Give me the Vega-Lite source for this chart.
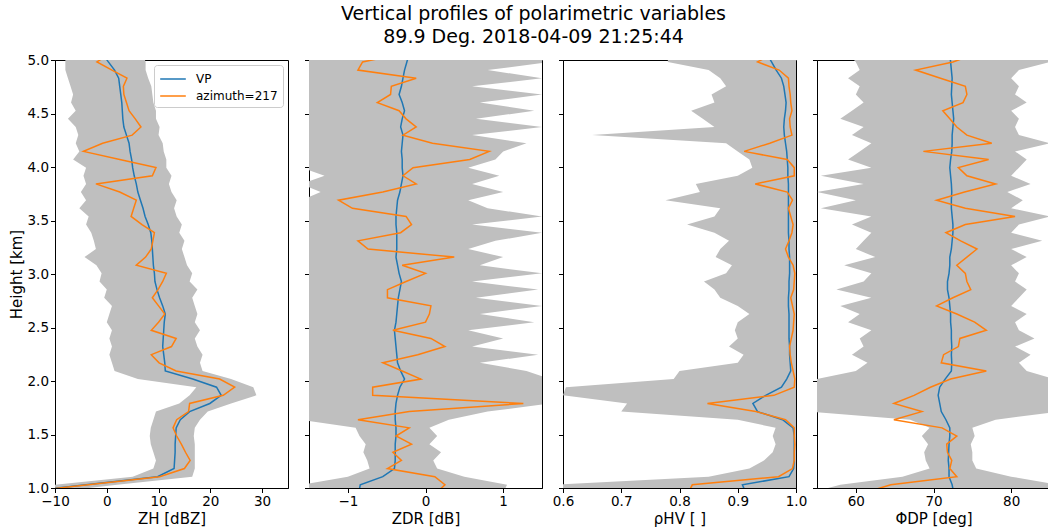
{
  "$schema": "https://vega.github.io/schema/vega-lite/v6.json",
  "background": "white",
  "padding": {"left": 8, "top": 4, "right": 0, "bottom": 0},
  "autosize": {"type": "pad"},
  "bounds": "flush",
  "spacing": 21,
  "title": {
    "text": ["Vertical profiles of polarimetric variables", "89.9 Deg. 2018-04-09 21:25:44"],
    "fontSize": 19, "font": "DejaVu Sans", "fontWeight": "normal", "anchor": "middle",
    "frame": "bounds", "offset": 6, "lineHeight": 23, "color": "black", "dx": 4
  },
  "config": {
    "view": {"stroke": "black", "strokeWidth": 1},
    "axis": {
      "domainColor": "black", "tickColor": "black", "labelColor": "black", "titleColor": "black",
      "labelFont": "DejaVu Sans", "titleFont": "DejaVu Sans", "labelFontSize": 13.5, "titleFontSize": 15,
      "titleFontWeight": "normal", "grid": false, "tickSize": 4.5, "labelPadding": 2, "titlePadding": 3,
      "labelFlush": false
    },
    "legend": {"labelFont": "DejaVu Sans"}
  },
  "datasets": {
    "env": [
      {"h":0.954,"zh_lo":-32,"zh_hi":-12,"zdr_lo":-1.6,"zdr_hi":1.0,"rho_lo":0.55,"rho_hi":1.0,"phi_lo":54,"phi_hi":86},
      {"h":1.03,"zh_lo":-10,"zh_hi":2,"zdr_lo":-1.6,"zdr_hi":1.05,"rho_lo":0.58,"rho_hi":1.0,"phi_lo":58,"phi_hi":86},
      {"h":1.106,"zh_lo":5,"zh_hi":16.5,"zdr_lo":-1.0,"zdr_hi":0.5,"rho_lo":0.85,"rho_hi":1.0,"phi_lo":66,"phi_hi":80},
      {"h":1.182,"zh_lo":9,"zh_hi":17,"zdr_lo":-0.72,"zdr_hi":0.15,"rho_lo":0.92,"rho_hi":1.0,"phi_lo":69.5,"phi_hi":75.5},
      {"h":1.258,"zh_lo":9.5,"zh_hi":17,"zdr_lo":-0.75,"zdr_hi":0.1,"rho_lo":0.945,"rho_hi":1.0,"phi_lo":69,"phi_hi":75},
      {"h":1.334,"zh_lo":9,"zh_hi":17,"zdr_lo":-0.8,"zdr_hi":0.2,"rho_lo":0.96,"rho_hi":1.0,"phi_lo":68.8,"phi_hi":75},
      {"h":1.41,"zh_lo":8.5,"zh_hi":17,"zdr_lo":-0.77,"zdr_hi":0.05,"rho_lo":0.965,"rho_hi":1.0,"phi_lo":69.3,"phi_hi":74.8},
      {"h":1.486,"zh_lo":8.3,"zh_hi":16.8,"zdr_lo":-0.85,"zdr_hi":0.15,"rho_lo":0.96,"rho_hi":1.0,"phi_lo":68.5,"phi_hi":75.3},
      {"h":1.562,"zh_lo":8.5,"zh_hi":17,"zdr_lo":-0.9,"zdr_hi":0.05,"rho_lo":0.965,"rho_hi":1.0,"phi_lo":69.5,"phi_hi":75},
      {"h":1.638,"zh_lo":9,"zh_hi":18,"zdr_lo":-1.6,"zdr_hi":0.3,"rho_lo":0.90,"rho_hi":1.0,"phi_lo":67,"phi_hi":78},
      {"h":1.714,"zh_lo":9.5,"zh_hi":19.5,"zdr_lo":-1.6,"zdr_hi":0.8,"rho_lo":0.70,"rho_hi":1.0,"phi_lo":54,"phi_hi":86},
      {"h":1.79,"zh_lo":14,"zh_hi":24,"zdr_lo":-1.6,"zdr_hi":1.6,"rho_lo":0.71,"rho_hi":1.0,"phi_lo":54,"phi_hi":86},
      {"h":1.866,"zh_lo":16,"zh_hi":28.9,"zdr_lo":-1.6,"zdr_hi":1.6,"rho_lo":0.60,"rho_hi":1.0,"phi_lo":54,"phi_hi":86},
      {"h":1.942,"zh_lo":17.3,"zh_hi":28.3,"zdr_lo":-1.6,"zdr_hi":1.6,"rho_lo":0.605,"rho_hi":1.0,"phi_lo":54,"phi_hi":86},
      {"h":2.018,"zh_lo":6,"zh_hi":24,"zdr_lo":-1.6,"zdr_hi":1.6,"rho_lo":0.79,"rho_hi":1.0,"phi_lo":55,"phi_hi":85.5},
      {"h":2.094,"zh_lo":1.5,"zh_hi":18.5,"zdr_lo":-1.6,"zdr_hi":1.3,"rho_lo":0.80,"rho_hi":1.0,"phi_lo":60,"phi_hi":82},
      {"h":2.17,"zh_lo":1.0,"zh_hi":18,"zdr_lo":-1.6,"zdr_hi":0.7,"rho_lo":0.90,"rho_hi":1.0,"phi_lo":61.5,"phi_hi":81},
      {"h":2.246,"zh_lo":0.5,"zh_hi":18.5,"zdr_lo":-1.6,"zdr_hi":1.45,"rho_lo":0.91,"rho_hi":1.0,"phi_lo":59.5,"phi_hi":82.5},
      {"h":2.322,"zh_lo":1.0,"zh_hi":17.5,"zdr_lo":-1.6,"zdr_hi":0.6,"rho_lo":0.885,"rho_hi":1.0,"phi_lo":61,"phi_hi":80.5},
      {"h":2.398,"zh_lo":0.5,"zh_hi":17,"zdr_lo":-1.6,"zdr_hi":1.0,"rho_lo":0.90,"rho_hi":1.0,"phi_lo":60.5,"phi_hi":83},
      {"h":2.474,"zh_lo":1.0,"zh_hi":18,"zdr_lo":-1.6,"zdr_hi":0.55,"rho_lo":0.895,"rho_hi":1.0,"phi_lo":62,"phi_hi":81},
      {"h":2.55,"zh_lo":0.0,"zh_hi":17,"zdr_lo":-1.6,"zdr_hi":1.4,"rho_lo":0.90,"rho_hi":1.0,"phi_lo":59,"phi_hi":80.5},
      {"h":2.626,"zh_lo":0.5,"zh_hi":17.5,"zdr_lo":-1.6,"zdr_hi":0.7,"rho_lo":0.92,"rho_hi":1.0,"phi_lo":60.5,"phi_hi":82},
      {"h":2.702,"zh_lo":1.0,"zh_hi":17,"zdr_lo":-1.6,"zdr_hi":1.5,"rho_lo":0.90,"rho_hi":1.0,"phi_lo":58,"phi_hi":80},
      {"h":2.778,"zh_lo":-0.5,"zh_hi":16.5,"zdr_lo":-1.6,"zdr_hi":0.65,"rho_lo":0.87,"rho_hi":1.0,"phi_lo":62,"phi_hi":81},
      {"h":2.854,"zh_lo":0.0,"zh_hi":17.5,"zdr_lo":-1.6,"zdr_hi":1.45,"rho_lo":0.86,"rho_hi":1.0,"phi_lo":57.5,"phi_hi":82},
      {"h":2.93,"zh_lo":-1.4,"zh_hi":16,"zdr_lo":-1.6,"zdr_hi":0.6,"rho_lo":0.842,"rho_hi":1.0,"phi_lo":61,"phi_hi":80.5},
      {"h":3.006,"zh_lo":-1.0,"zh_hi":16.5,"zdr_lo":-1.6,"zdr_hi":1.5,"rho_lo":0.88,"rho_hi":1.0,"phi_lo":62,"phi_hi":81},
      {"h":3.082,"zh_lo":-2.0,"zh_hi":15.5,"zdr_lo":-1.6,"zdr_hi":0.7,"rho_lo":0.89,"rho_hi":1.0,"phi_lo":58.5,"phi_hi":80},
      {"h":3.158,"zh_lo":-4.3,"zh_hi":15,"zdr_lo":-1.6,"zdr_hi":1.0,"rho_lo":0.862,"rho_hi":1.0,"phi_lo":62.5,"phi_hi":82},
      {"h":3.234,"zh_lo":-2.1,"zh_hi":14.5,"zdr_lo":-1.6,"zdr_hi":0.55,"rho_lo":0.87,"rho_hi":1.0,"phi_lo":60,"phi_hi":80},
      {"h":3.31,"zh_lo":-2.5,"zh_hi":15,"zdr_lo":-1.6,"zdr_hi":0.9,"rho_lo":0.885,"rho_hi":1.0,"phi_lo":61,"phi_hi":84},
      {"h":3.386,"zh_lo":-3.0,"zh_hi":14,"zdr_lo":-1.6,"zdr_hi":1.5,"rho_lo":0.86,"rho_hi":1.0,"phi_lo":62,"phi_hi":80},
      {"h":3.462,"zh_lo":-4.0,"zh_hi":14.5,"zdr_lo":-1.6,"zdr_hi":0.6,"rho_lo":0.813,"rho_hi":1.0,"phi_lo":59.5,"phi_hi":81},
      {"h":3.538,"zh_lo":-3.5,"zh_hi":13.5,"zdr_lo":-1.6,"zdr_hi":1.5,"rho_lo":0.86,"rho_hi":1.0,"phi_lo":62,"phi_hi":85},
      {"h":3.614,"zh_lo":-5.3,"zh_hi":13,"zdr_lo":-1.6,"zdr_hi":0.8,"rho_lo":0.87,"rho_hi":1.0,"phi_lo":55.5,"phi_hi":80},
      {"h":3.69,"zh_lo":-4.0,"zh_hi":13.5,"zdr_lo":-1.6,"zdr_hi":0.55,"rho_lo":0.776,"rho_hi":1.0,"phi_lo":60,"phi_hi":81.5},
      {"h":3.766,"zh_lo":-5.0,"zh_hi":12.5,"zdr_lo":-1.35,"zdr_hi":1.0,"rho_lo":0.835,"rho_hi":1.0,"phi_lo":55,"phi_hi":79.5},
      {"h":3.842,"zh_lo":-4.0,"zh_hi":12,"zdr_lo":-1.6,"zdr_hi":0.6,"rho_lo":0.828,"rho_hi":1.0,"phi_lo":61,"phi_hi":82.5},
      {"h":3.918,"zh_lo":-4.5,"zh_hi":12.5,"zdr_lo":-1.3,"zdr_hi":0.95,"rho_lo":0.90,"rho_hi":1.0,"phi_lo":55.5,"phi_hi":80},
      {"h":3.994,"zh_lo":-4.0,"zh_hi":11.5,"zdr_lo":-1.6,"zdr_hi":0.55,"rho_lo":0.925,"rho_hi":1.0,"phi_lo":62,"phi_hi":81},
      {"h":4.07,"zh_lo":-6.5,"zh_hi":11.5,"zdr_lo":-1.6,"zdr_hi":0.9,"rho_lo":0.92,"rho_hi":1.0,"phi_lo":59,"phi_hi":82},
      {"h":4.146,"zh_lo":-5.3,"zh_hi":11,"zdr_lo":-1.6,"zdr_hi":1.0,"rho_lo":0.90,"rho_hi":1.0,"phi_lo":60.5,"phi_hi":80.5},
      {"h":4.222,"zh_lo":-6.0,"zh_hi":10.8,"zdr_lo":-1.6,"zdr_hi":1.3,"rho_lo":0.88,"rho_hi":1.0,"phi_lo":62,"phi_hi":85},
      {"h":4.298,"zh_lo":-5.5,"zh_hi":10,"zdr_lo":-1.6,"zdr_hi":0.6,"rho_lo":0.65,"rho_hi":1.0,"phi_lo":59.5,"phi_hi":81},
      {"h":4.374,"zh_lo":-6.0,"zh_hi":10.2,"zdr_lo":-1.6,"zdr_hi":1.5,"rho_lo":0.86,"rho_hi":1.0,"phi_lo":61,"phi_hi":80.5},
      {"h":4.45,"zh_lo":-7.5,"zh_hi":9.5,"zdr_lo":-1.6,"zdr_hi":0.65,"rho_lo":0.84,"rho_hi":1.0,"phi_lo":58,"phi_hi":81},
      {"h":4.526,"zh_lo":-6.0,"zh_hi":9.5,"zdr_lo":-1.6,"zdr_hi":1.4,"rho_lo":0.82,"rho_hi":1.0,"phi_lo":59.5,"phi_hi":80},
      {"h":4.602,"zh_lo":-6.9,"zh_hi":9,"zdr_lo":-1.6,"zdr_hi":0.7,"rho_lo":0.86,"rho_hi":1.0,"phi_lo":61,"phi_hi":82},
      {"h":4.678,"zh_lo":-6.5,"zh_hi":8.8,"zdr_lo":-1.6,"zdr_hi":1.5,"rho_lo":0.855,"rho_hi":1.0,"phi_lo":60,"phi_hi":80.5},
      {"h":4.754,"zh_lo":-7.0,"zh_hi":8.6,"zdr_lo":-1.6,"zdr_hi":0.6,"rho_lo":0.88,"rho_hi":1.0,"phi_lo":60.5,"phi_hi":81},
      {"h":4.83,"zh_lo":-7.5,"zh_hi":8,"zdr_lo":-1.6,"zdr_hi":1.5,"rho_lo":0.87,"rho_hi":1.0,"phi_lo":59,"phi_hi":80},
      {"h":4.906,"zh_lo":-8.0,"zh_hi":7.5,"zdr_lo":-1.6,"zdr_hi":0.8,"rho_lo":0.85,"rho_hi":1.0,"phi_lo":60.5,"phi_hi":81},
      {"h":4.982,"zh_lo":-8.0,"zh_hi":7.5,"zdr_lo":-1.6,"zdr_hi":1.6,"rho_lo":0.78,"rho_hi":1.0,"phi_lo":60,"phi_hi":85},
      {"h":5.058,"zh_lo":-8.0,"zh_hi":7,"zdr_lo":-1.6,"zdr_hi":1.2,"rho_lo":0.78,"rho_hi":1.0,"phi_lo":59,"phi_hi":85}
    ],
    "prof": [
      {"h":0.954,"s":"VP","zh":-18,"zdr":-0.86,"rho":0.914,"phi":72.6},
      {"h":1.03,"s":"VP","zh":-4,"zdr":-0.84,"rho":0.908,"phi":72.4},
      {"h":1.106,"s":"VP","zh":9.8,"zdr":-0.55,"rho":0.988,"phi":72.0},
      {"h":1.182,"s":"VP","zh":13.0,"zdr":-0.40,"rho":0.996,"phi":72.0},
      {"h":1.258,"s":"VP","zh":13.1,"zdr":-0.39,"rho":0.997,"phi":71.9},
      {"h":1.334,"s":"VP","zh":13.2,"zdr":-0.39,"rho":0.997,"phi":71.95},
      {"h":1.41,"s":"VP","zh":13.2,"zdr":-0.39,"rho":0.997,"phi":72.0},
      {"h":1.486,"s":"VP","zh":13.3,"zdr":-0.38,"rho":0.997,"phi":72.1},
      {"h":1.562,"s":"VP","zh":13.4,"zdr":-0.38,"rho":0.995,"phi":72.1},
      {"h":1.638,"s":"VP","zh":14.2,"zdr":-0.39,"rho":0.977,"phi":71.6},
      {"h":1.714,"s":"VP","zh":16.0,"zdr":-0.39,"rho":0.934,"phi":71.0},
      {"h":1.79,"s":"VP","zh":19.9,"zdr":-0.38,"rho":0.926,"phi":70.8},
      {"h":1.866,"s":"VP","zh":22.1,"zdr":-0.36,"rho":0.948,"phi":70.6},
      {"h":1.942,"s":"VP","zh":21.2,"zdr":-0.33,"rho":0.975,"phi":70.8},
      {"h":2.018,"s":"VP","zh":16.6,"zdr":-0.27,"rho":0.984,"phi":71.5},
      {"h":2.094,"s":"VP","zh":11.3,"zdr":-0.32,"rho":0.991,"phi":72.3},
      {"h":2.17,"s":"VP","zh":11.2,"zdr":-0.36,"rho":0.990,"phi":72.35},
      {"h":2.246,"s":"VP","zh":11.0,"zdr":-0.37,"rho":0.989,"phi":72.3},
      {"h":2.322,"s":"VP","zh":10.8,"zdr":-0.38,"rho":0.989,"phi":72.35},
      {"h":2.398,"s":"VP","zh":10.9,"zdr":-0.39,"rho":0.988,"phi":72.3},
      {"h":2.474,"s":"VP","zh":11.0,"zdr":-0.40,"rho":0.988,"phi":72.3},
      {"h":2.55,"s":"VP","zh":11.1,"zdr":-0.38,"rho":0.988,"phi":72.2},
      {"h":2.626,"s":"VP","zh":11.3,"zdr":-0.37,"rho":0.988,"phi":72.2},
      {"h":2.702,"s":"VP","zh":10.8,"zdr":-0.36,"rho":0.987,"phi":72.1},
      {"h":2.778,"s":"VP","zh":10.2,"zdr":-0.35,"rho":0.987,"phi":72.0},
      {"h":2.854,"s":"VP","zh":9.7,"zdr":-0.33,"rho":0.988,"phi":71.8},
      {"h":2.93,"s":"VP","zh":9.3,"zdr":-0.31,"rho":0.988,"phi":71.8},
      {"h":3.006,"s":"VP","zh":9.2,"zdr":-0.34,"rho":0.989,"phi":72.0},
      {"h":3.082,"s":"VP","zh":9.0,"zdr":-0.36,"rho":0.989,"phi":72.1},
      {"h":3.158,"s":"VP","zh":8.9,"zdr":-0.38,"rho":0.989,"phi":72.1},
      {"h":3.234,"s":"VP","zh":8.8,"zdr":-0.37,"rho":0.988,"phi":72.3},
      {"h":3.31,"s":"VP","zh":8.7,"zdr":-0.37,"rho":0.988,"phi":72.4},
      {"h":3.386,"s":"VP","zh":8.5,"zdr":-0.37,"rho":0.987,"phi":72.5},
      {"h":3.462,"s":"VP","zh":8.0,"zdr":-0.38,"rho":0.987,"phi":72.5},
      {"h":3.538,"s":"VP","zh":7.4,"zdr":-0.38,"rho":0.987,"phi":72.4},
      {"h":3.614,"s":"VP","zh":7.0,"zdr":-0.37,"rho":0.987,"phi":72.3},
      {"h":3.69,"s":"VP","zh":6.5,"zdr":-0.36,"rho":0.987,"phi":72.3},
      {"h":3.766,"s":"VP","zh":6.0,"zdr":-0.33,"rho":0.987,"phi":72.35},
      {"h":3.842,"s":"VP","zh":5.7,"zdr":-0.31,"rho":0.987,"phi":72.3},
      {"h":3.918,"s":"VP","zh":5.3,"zdr":-0.29,"rho":0.986,"phi":72.2},
      {"h":3.994,"s":"VP","zh":5.0,"zdr":-0.30,"rho":0.986,"phi":72.1},
      {"h":4.07,"s":"VP","zh":4.8,"zdr":-0.30,"rho":0.985,"phi":72.2},
      {"h":4.146,"s":"VP","zh":4.5,"zdr":-0.31,"rho":0.984,"phi":72.35},
      {"h":4.222,"s":"VP","zh":4.3,"zdr":-0.30,"rho":0.982,"phi":72.4},
      {"h":4.298,"s":"VP","zh":3.8,"zdr":-0.29,"rho":0.980,"phi":72.4},
      {"h":4.374,"s":"VP","zh":3.3,"zdr":-0.32,"rho":0.979,"phi":72.5},
      {"h":4.45,"s":"VP","zh":3.1,"zdr":-0.30,"rho":0.980,"phi":72.6},
      {"h":4.526,"s":"VP","zh":3.0,"zdr":-0.27,"rho":0.982,"phi":72.5},
      {"h":4.602,"s":"VP","zh":2.9,"zdr":-0.30,"rho":0.983,"phi":72.4},
      {"h":4.678,"s":"VP","zh":2.7,"zdr":-0.34,"rho":0.981,"phi":72.3},
      {"h":4.754,"s":"VP","zh":2.5,"zdr":-0.31,"rho":0.979,"phi":72.35},
      {"h":4.83,"s":"VP","zh":2.3,"zdr":-0.29,"rho":0.975,"phi":72.4},
      {"h":4.906,"s":"VP","zh":1.5,"zdr":-0.27,"rho":0.966,"phi":72.3},
      {"h":4.982,"s":"VP","zh":0.3,"zdr":-0.24,"rho":0.958,"phi":72.2},
      {"h":5.058,"s":"VP","zh":-0.8,"zdr":-0.21,"rho":0.950,"phi":72.1},
      {"h":0.954,"s":"azimuth=217","zh":-18,"zdr":0.14,"rho":0.815,"phi":61},
      {"h":1.03,"s":"azimuth=217","zh":-3.6,"zdr":0.25,"rho":0.822,"phi":64.5},
      {"h":1.106,"s":"azimuth=217","zh":10.2,"zdr":0.12,"rho":0.970,"phi":73.0},
      {"h":1.182,"s":"azimuth=217","zh":15.0,"zdr":-0.49,"rho":0.994,"phi":72.1},
      {"h":1.258,"s":"azimuth=217","zh":16.1,"zdr":-0.31,"rho":0.997,"phi":72.35},
      {"h":1.334,"s":"azimuth=217","zh":15.2,"zdr":-0.42,"rho":0.997,"phi":71.8},
      {"h":1.41,"s":"azimuth=217","zh":14.4,"zdr":-0.18,"rho":0.998,"phi":71.7},
      {"h":1.486,"s":"azimuth=217","zh":13.5,"zdr":-0.38,"rho":0.997,"phi":73.0},
      {"h":1.562,"s":"azimuth=217","zh":12.8,"zdr":-0.21,"rho":0.997,"phi":71.1},
      {"h":1.638,"s":"azimuth=217","zh":13.5,"zdr":-0.87,"rho":0.982,"phi":64.9},
      {"h":1.714,"s":"azimuth=217","zh":15.8,"zdr":-0.21,"rho":0.931,"phi":68.5},
      {"h":1.79,"s":"azimuth=217","zh":16.0,"zdr":1.26,"rho":0.848,"phi":64.9},
      {"h":1.866,"s":"azimuth=217","zh":22.5,"zdr":-0.68,"rho":0.962,"phi":67.5},
      {"h":1.942,"s":"azimuth=217","zh":24.7,"zdr":-0.68,"rho":0.997,"phi":69.6},
      {"h":2.018,"s":"azimuth=217","zh":21.8,"zdr":-0.06,"rho":0.998,"phi":72.2},
      {"h":2.094,"s":"azimuth=217","zh":13.4,"zdr":-0.30,"rho":0.995,"phi":76.8},
      {"h":2.17,"s":"azimuth=217","zh":10.1,"zdr":-0.55,"rho":0.992,"phi":71.0},
      {"h":2.246,"s":"azimuth=217","zh":8.6,"zdr":-0.10,"rho":0.990,"phi":71.3},
      {"h":2.322,"s":"azimuth=217","zh":12.5,"zdr":0.25,"rho":0.989,"phi":73.2},
      {"h":2.398,"s":"azimuth=217","zh":13.4,"zdr":0.07,"rho":0.992,"phi":73.4},
      {"h":2.474,"s":"azimuth=217","zh":8.6,"zdr":-0.42,"rho":0.995,"phi":76.8},
      {"h":2.55,"s":"azimuth=217","zh":10.0,"zdr":0.0,"rho":0.996,"phi":75.3},
      {"h":2.626,"s":"azimuth=217","zh":11.2,"zdr":0.05,"rho":0.997,"phi":73.0},
      {"h":2.702,"s":"azimuth=217","zh":10.0,"zdr":0.07,"rho":0.994,"phi":70.4},
      {"h":2.778,"s":"azimuth=217","zh":8.8,"zdr":-0.49,"rho":0.991,"phi":72.5},
      {"h":2.854,"s":"azimuth=217","zh":9.9,"zdr":-0.49,"rho":0.996,"phi":74.8},
      {"h":2.93,"s":"azimuth=217","zh":10.8,"zdr":-0.25,"rho":0.997,"phi":74.3},
      {"h":3.006,"s":"azimuth=217","zh":11.5,"zdr":0.0,"rho":0.998,"phi":74.1},
      {"h":3.082,"s":"azimuth=217","zh":5.7,"zdr":-0.30,"rho":0.995,"phi":73.0},
      {"h":3.158,"s":"azimuth=217","zh":7.5,"zdr":0.37,"rho":0.987,"phi":74.3},
      {"h":3.234,"s":"azimuth=217","zh":8.6,"zdr":-0.74,"rho":0.982,"phi":75.6},
      {"h":3.31,"s":"azimuth=217","zh":8.9,"zdr":-0.87,"rho":0.988,"phi":73.5},
      {"h":3.386,"s":"azimuth=217","zh":9.2,"zdr":-0.32,"rho":0.993,"phi":71.6},
      {"h":3.462,"s":"azimuth=217","zh":6.8,"zdr":-0.18,"rho":0.995,"phi":74.1},
      {"h":3.538,"s":"azimuth=217","zh":4.7,"zdr":-0.25,"rho":0.991,"phi":80.5},
      {"h":3.614,"s":"azimuth=217","zh":5.2,"zdr":-0.94,"rho":0.987,"phi":74.1},
      {"h":3.69,"s":"azimuth=217","zh":5.7,"zdr":-1.12,"rho":0.994,"phi":70.4},
      {"h":3.766,"s":"azimuth=217","zh":2.5,"zdr":-0.55,"rho":0.985,"phi":74.0},
      {"h":3.842,"s":"azimuth=217","zh":-2.1,"zdr":-0.12,"rho":0.930,"phi":78.0},
      {"h":3.918,"s":"azimuth=217","zh":8.8,"zdr":-0.29,"rho":0.997,"phi":74.3},
      {"h":3.994,"s":"azimuth=217","zh":9.5,"zdr":-0.16,"rho":0.997,"phi":73.2},
      {"h":4.07,"s":"azimuth=217","zh":2.5,"zdr":0.57,"rho":0.985,"phi":77.1},
      {"h":4.146,"s":"azimuth=217","zh":-4.5,"zdr":0.82,"rho":0.911,"phi":68.7},
      {"h":4.222,"s":"azimuth=217","zh":-0.8,"zdr":0.09,"rho":0.955,"phi":77.5},
      {"h":4.298,"s":"azimuth=217","zh":4.9,"zdr":-0.29,"rho":0.993,"phi":74.3},
      {"h":4.374,"s":"azimuth=217","zh":6.6,"zdr":-0.12,"rho":0.990,"phi":73.0},
      {"h":4.45,"s":"azimuth=217","zh":5.5,"zdr":-0.25,"rho":0.989,"phi":72.1},
      {"h":4.526,"s":"azimuth=217","zh":4.3,"zdr":-0.34,"rho":0.993,"phi":71.2},
      {"h":4.602,"s":"azimuth=217","zh":3.8,"zdr":-0.62,"rho":0.991,"phi":73.8},
      {"h":4.678,"s":"azimuth=217","zh":3.3,"zdr":-0.45,"rho":0.990,"phi":74.3},
      {"h":4.754,"s":"azimuth=217","zh":3.2,"zdr":-0.44,"rho":0.988,"phi":74.1},
      {"h":4.83,"s":"azimuth=217","zh":3.9,"zdr":-0.12,"rho":0.987,"phi":70.9},
      {"h":4.906,"s":"azimuth=217","zh":1.0,"zdr":-0.87,"rho":0.971,"phi":67.7},
      {"h":4.982,"s":"azimuth=217","zh":-1.9,"zdr":-0.81,"rho":0.934,"phi":72.5},
      {"h":5.058,"s":"azimuth=217","zh":0.5,"zdr":-0.3,"rho":0.96,"phi":75.5}
    ]
  },
  "resolve": {"legend": {"color": "independent"}},
  "hconcat": [
    {
      "width": 233, "height": 428,
      "encoding": {
        "y": {"field": "h", "type": "quantitative", "scale": {"domain": [1, 5], "nice": false, "zero": false},
              "axis": {"title": "Height [km]", "values": [1, 1.5, 2, 2.5, 3, 3.5, 4, 4.5, 5], "format": ".1f"}}
      },
      "layer": [
        {"data": {"name": "env"}, "mark": {"type": "area", "orient": "horizontal", "color": "#bfbfbf", "opacity": 1, "clip": true},
         "encoding": {
           "x": {"field": "zh_lo", "type": "quantitative", "scale": {"domain": [-10, 35], "nice": false, "zero": false},
                 "axis": {"title": "ZH [dBZ]", "values": [-10, 0, 10, 20, 30]}},
           "x2": {"field": "zh_hi"}
         }},
        {"data": {"name": "prof"}, "mark": {"type": "line", "strokeWidth": 1.5, "clip": true},
         "encoding": {
           "x": {"field": "zh", "type": "quantitative", "axis": {"title": "ZH [dBZ]", "values": [-10, 0, 10, 20, 30]}},
           "order": {"field": "h", "type": "quantitative"},
           "color": {"field": "s", "type": "nominal", "scale": {"domain": ["VP", "azimuth=217"], "range": ["#1f77b4", "#ff7f0e"]},
                     "legend": {"title": null, "orient": "top-right", "offset": 5, "strokeColor": "#cccccc", "fillColor": "white",
                                "padding": 5, "cornerRadius": 3, "symbolType": "M-1.6,0H1.6", "symbolSize": 256, "symbolStrokeWidth": 1.5,
                                "symbolOffset": 5, "labelFontSize": 12, "labelColor": "black", "rowPadding": 2, "labelOffset": 14}}
         }}
      ]
    },
    {
      "width": 233, "height": 428,
      "encoding": {
        "y": {"field": "h", "type": "quantitative", "scale": {"domain": [1, 5], "nice": false, "zero": false},
              "axis": {"title": null, "labels": false, "values": [1, 1.5, 2, 2.5, 3, 3.5, 4, 4.5, 5]}}
      },
      "layer": [
        {"data": {"name": "env"}, "mark": {"type": "area", "orient": "horizontal", "color": "#bfbfbf", "opacity": 1, "clip": true},
         "encoding": {
           "x": {"field": "zdr_lo", "type": "quantitative", "scale": {"domain": [-1.5, 1.5], "nice": false, "zero": false},
                 "axis": {"title": "ZDR [dB]", "values": [-1, 0, 1]}},
           "x2": {"field": "zdr_hi"}
         }},
        {"data": {"name": "prof"}, "mark": {"type": "line", "strokeWidth": 1.5, "clip": true},
         "encoding": {
           "x": {"field": "zdr", "type": "quantitative", "axis": {"title": "ZDR [dB]", "values": [-1, 0, 1]}},
           "order": {"field": "h", "type": "quantitative"},
           "color": {"field": "s", "type": "nominal", "scale": {"domain": ["VP", "azimuth=217"], "range": ["#1f77b4", "#ff7f0e"]}, "legend": null}
         }}
      ]
    },
    {
      "width": 233, "height": 428,
      "encoding": {
        "y": {"field": "h", "type": "quantitative", "scale": {"domain": [1, 5], "nice": false, "zero": false},
              "axis": {"title": null, "labels": false, "values": [1, 1.5, 2, 2.5, 3, 3.5, 4, 4.5, 5]}}
      },
      "layer": [
        {"data": {"name": "env"}, "mark": {"type": "area", "orient": "horizontal", "color": "#bfbfbf", "opacity": 1, "clip": true},
         "encoding": {
           "x": {"field": "rho_lo", "type": "quantitative", "scale": {"domain": [0.6, 1.0], "nice": false, "zero": false},
                 "axis": {"title": "ρHV [ ]", "values": [0.6, 0.7, 0.8, 0.9, 1.0], "format": ".1f"}},
           "x2": {"field": "rho_hi"}
         }},
        {"data": {"name": "prof"}, "mark": {"type": "line", "strokeWidth": 1.5, "clip": true},
         "encoding": {
           "x": {"field": "rho", "type": "quantitative", "axis": {"title": "ρHV [ ]", "values": [0.6, 0.7, 0.8, 0.9, 1.0], "format": ".1f"}},
           "order": {"field": "h", "type": "quantitative"},
           "color": {"field": "s", "type": "nominal", "scale": {"domain": ["VP", "azimuth=217"], "range": ["#1f77b4", "#ff7f0e"]}, "legend": null}
         }}
      ]
    },
    {
      "width": 233, "height": 428,
      "encoding": {
        "y": {"field": "h", "type": "quantitative", "scale": {"domain": [1, 5], "nice": false, "zero": false},
              "axis": {"title": null, "labels": false, "values": [1, 1.5, 2, 2.5, 3, 3.5, 4, 4.5, 5]}}
      },
      "layer": [
        {"data": {"name": "env"}, "mark": {"type": "area", "orient": "horizontal", "color": "#bfbfbf", "opacity": 1, "clip": true},
         "encoding": {
           "x": {"field": "phi_lo", "type": "quantitative", "scale": {"domain": [55, 85], "nice": false, "zero": false},
                 "axis": {"title": "ΦDP [deg]", "values": [60, 70, 80]}},
           "x2": {"field": "phi_hi"}
         }},
        {"data": {"name": "prof"}, "mark": {"type": "line", "strokeWidth": 1.5, "clip": true},
         "encoding": {
           "x": {"field": "phi", "type": "quantitative", "axis": {"title": "ΦDP [deg]", "values": [60, 70, 80]}},
           "order": {"field": "h", "type": "quantitative"},
           "color": {"field": "s", "type": "nominal", "scale": {"domain": ["VP", "azimuth=217"], "range": ["#1f77b4", "#ff7f0e"]}, "legend": null}
         }}
      ]
    }
  ]
}
